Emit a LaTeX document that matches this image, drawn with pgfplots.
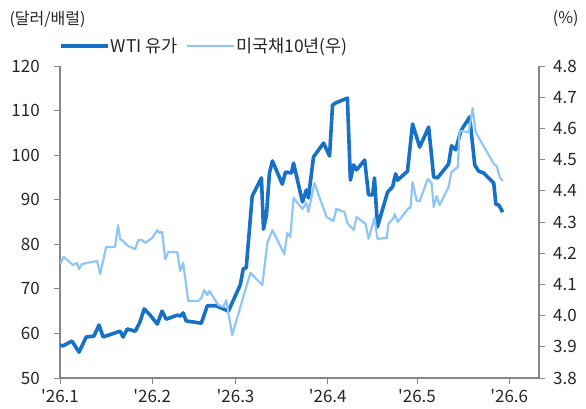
\documentclass[border=0pt]{standalone}
\usepackage{fontspec}
\setmainfont{Noto Sans CJK KR}
\usepackage{pgfplots}
\pgfplotsset{compat=1.18}
\definecolor{wti}{HTML}{1771C7}
\definecolor{ust}{HTML}{90C6F6}
\definecolor{axgray}{HTML}{868686}
\definecolor{txt}{HTML}{262626}

\begin{document}
\begin{tikzpicture}
\path[use as bounding box] (0,0) rectangle (586pt,409pt);
\pgfplotsset{
  common/.style={scale only axis, width=479pt, height=312pt,
    at={(60pt,31pt)}, anchor=south west,
    xmin=0, xmax=161,
    font=\fontsize{14}{16}\selectfont,
    ticklabel style={font=\fontsize{17}{19}\selectfont, text=txt, inner sep=2pt},
    /pgf/number format/assume math mode=true,
    tick style={axgray, line width=0.8pt},
    axis line style={axgray, line width=1.2pt},
    major tick length=6pt, tick align=outside}
}
\begin{axis}[common, axis y line*=left, axis x line*=bottom,
  ymin=50, ymax=120, ytick={50,60,70,80,90,100,110,120},
  yticklabel style={xshift=-12pt},
  xtick={0,31,59,90,120,151},
  xticklabels={\textquotesingle26.1,\textquotesingle26.2,\textquotesingle26.3,\textquotesingle26.4,\textquotesingle26.5,\textquotesingle26.6},
  xticklabel style={yshift=-3pt},
  legend columns=2,
  legend style={draw=none, fill=none, at={(axis description cs:0,1)}, anchor=west,
    xshift=-4pt, yshift=20pt, font=\fontsize{17.5}{20}\selectfont, text=txt,
    nodes={inner sep=1pt},
    /tikz/every even column/.append style={column sep=7pt}},
  legend image code/.code={\draw[#1] (0pt,0pt) -- (47pt,0pt);}
  ]
\addplot[wti, line width=3.6pt, line join=round] coordinates {
(0,57.4)(1,57.2)(4,58.3)(6.4,55.8)(8.8,59.2)(11.4,59.4)(13.1,61.9)(14.5,59.2)
(20.2,60.5)(21.2,59.2)(22.6,61.0)(25.3,60.5)(26.9,62.6)(28.3,65.5)(30.3,64.1)
(32.7,62.1)(34.3,65.0)(35.7,63.2)(39.4,64.1)(40.4,63.9)(41.4,64.6)(42.4,62.8)
(47.5,62.3)(49.5,66.2)(52.5,66.2)(54.2,65.7)(55.6,65.3)(56.6,65.0)(60.6,70.9)
(61.6,74.5)(62.6,74.7)(64.6,90.8)(67.7,94.9)(68.4,83.4)(69.4,86.6)(70.4,96.0)
(71.4,98.7)(74.7,93.5)(75.8,96.2)(77.8,96.0)(78.5,98.2)(81.5,89.5)(82.8,92.2)
(83.5,90.4)(85.2,99.6)(88.6,102.7)(90.6,99.8)(91.6,111.2)(92.6,111.7)(96.6,112.8)
(97.6,94.4)(98.7,97.8)(99.7,96.7)(102.4,98.9)(103.7,91.1)(105.1,91.1)(105.7,94.9)
(106.7,83.9)(110.1,91.7)(111.8,92.9)(112.8,95.8)(113.5,94.4)(116.8,96.4)(118.5,107.0)
(120.9,101.8)(123.9,106.3)(125.6,95.1)(126.9,94.9)(130.6,98.0)(131.6,102.1)(133.0,101.2)
(134.7,105.4)(137.7,108.6)(139.4,97.8)(140.7,96.4)(142.4,96.0)(145.8,93.7)(146.5,89.0)
(147.5,88.8)(148.8,87.2)
};
\addlegendentry{WTI 유가}
\addlegendimage{ust, line width=2.2pt}
\addlegendentry{미국채10년(우)}
\end{axis}
\begin{axis}[common, axis y line*=right, axis x line=none,
  ymin=3.8, ymax=4.8, ytick={3.8,3.9,4.0,4.1,4.2,4.3,4.4,4.5,4.6,4.7,4.8},
  yticklabel style={xshift=6pt, /pgf/number format/.cd, fixed, fixed zerofill, precision=1}]
\addplot[ust, line width=2.2pt, line join=round] coordinates {
(0,4.165)(1.3,4.188)(4.4,4.162)(5.7,4.169)(6.4,4.149)(7.4,4.165)(9.1,4.169)(12.5,4.175)
(13.5,4.133)(15.5,4.220)(18.5,4.220)(19.5,4.290)(20.2,4.246)(21.2,4.239)(22.9,4.223)
(25.3,4.213)(26.3,4.242)(27.6,4.242)(28.6,4.233)(31.0,4.249)(32.7,4.274)(33.3,4.265)
(34.3,4.268)(35.4,4.181)(36.4,4.204)(39.4,4.204)(40.4,4.143)(41.4,4.169)(43.1,4.047)
(46.5,4.047)(47.5,4.056)(48.5,4.082)(49.5,4.066)(50.2,4.079)(53.2,4.034)(54.9,4.028)
(55.9,4.050)(56.6,4.008)(57.9,3.938)(61.3,4.050)(64.0,4.137)(68.0,4.098)(69.7,4.233)
(71.4,4.274)(75.4,4.197)(76.4,4.265)(77.4,4.252)(78.5,4.377)(81.5,4.342)(82.8,4.361)
(83.5,4.332)(85.5,4.425)(89.6,4.316)(91.9,4.303)(92.9,4.342)(95.6,4.332)(96.6,4.297)
(98.7,4.274)(99.7,4.316)(102.7,4.294)(103.7,4.246)(105.7,4.313)(106.7,4.246)(109.8,4.249)
(110.4,4.294)(112.1,4.313)(112.5,4.326)(113.5,4.300)(117.2,4.345)(117.8,4.345)(118.5,4.428)
(119.9,4.367)(120.9,4.367)(123.6,4.438)(124.9,4.425)(125.6,4.348)(126.6,4.383)(127.6,4.354)
(130.6,4.412)(131.6,4.460)(133.7,4.476)(134.3,4.592)(137.4,4.588)(138.7,4.665)(139.7,4.588)
(141.8,4.553)(145.8,4.486)(146.8,4.479)(147.8,4.444)(148.8,4.431)
};
\end{axis}
\node[anchor=west, font=\fontsize{16}{18}\selectfont, text=txt] at (6pt,390pt) {(달러/배럴)};
\node[anchor=east, font=\fontsize{16}{18}\selectfont, text=txt] at (582pt,390pt) {(\%)};
\end{tikzpicture}
\end{document}
